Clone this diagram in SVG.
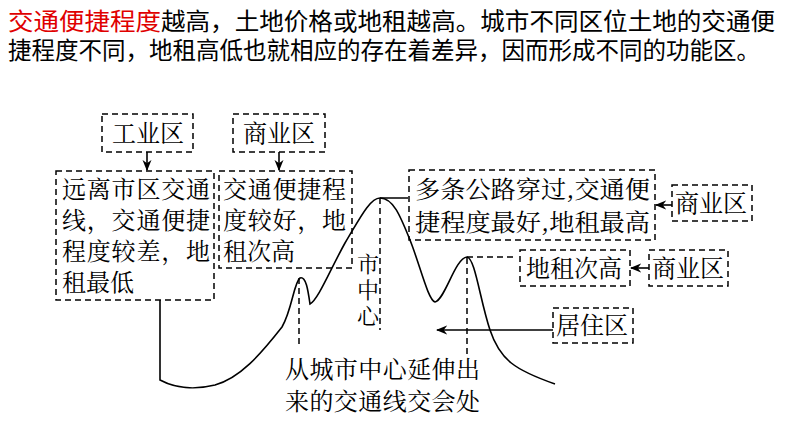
<svg xmlns="http://www.w3.org/2000/svg" width="794" height="447" viewBox="0 0 794 447">
<defs>
<style>
text{font-family:"Noto Sans CJK SC","Noto Sans",sans-serif;fill:#000}
.t{font-size:24px}
.d{font-family:"Noto Serif CJK SC","Noto Sans CJK SC",serif;font-size:24px}
.box{fill:none;stroke:#000;stroke-width:1.5;stroke-dasharray:6 4}
.ln{fill:none;stroke:#000;stroke-width:1.6}
.dl{fill:none;stroke:#000;stroke-width:1.5;stroke-dasharray:6 4}
</style>
<marker id="a" viewBox="0 0 10 10" refX="9" refY="5" markerWidth="7" markerHeight="7" orient="auto"><path d="M0,1 L10,5 L0,9 L3,5 z" fill="#000"/></marker>
</defs>
<rect width="794" height="447" fill="#fff"/>
<text class="t" x="8" y="30" textLength="153" lengthAdjust="spacingAndGlyphs" style="fill:#e00000">交通便捷程度</text>
<text class="t" x="161" y="30" textLength="614" lengthAdjust="spacingAndGlyphs">越高，土地价格或地租越高。城市不同区位土地的交通便</text>
<text class="t" x="8" y="59" textLength="752" lengthAdjust="spacingAndGlyphs">捷程度不同，地租高低也就相应的存在着差异，因而形成不同的功能区。</text>
<g id="n1"><rect class="box" x="102" y="114" width="91" height="38"/><text class="d" x="112" y="142">工业区</text></g>
<g id="n2"><rect class="box" x="233" y="114" width="92" height="38"/><text class="d" x="243" y="142">商业区</text></g>
<g id="n3"><rect class="box" x="56" y="171" width="158" height="129"/>
<text class="d" x="62" y="198" textLength="148">远离市区交通</text><text class="d" x="62" y="229" textLength="148">线，交通便捷</text><text class="d" x="62" y="260" textLength="148">程度较差，地</text><text class="d" x="62" y="291">租最低</text></g>
<g id="n4"><rect class="box" x="219" y="171" width="133" height="97"/>
<text class="d" x="223" y="198" textLength="123">交通便捷程</text><text class="d" x="223" y="229" textLength="123">度较好，地</text><text class="d" x="223" y="260">租次高</text></g>
<g id="n5"><rect class="box" x="409" y="170" width="246" height="70"/>
<text class="d" x="415" y="198" textLength="235" lengthAdjust="spacingAndGlyphs">多条公路穿过,交通便</text><text class="d" x="415" y="231" textLength="235" lengthAdjust="spacingAndGlyphs">捷程度最好,地租最高</text></g>
<g id="n6"><rect class="box" x="672" y="185" width="80" height="36"/><text class="d" x="675" y="212">商业区</text></g>
<g id="n7"><rect class="box" x="520" y="250" width="110" height="36"/><text class="d" x="526" y="277">地租次高</text></g>
<g id="n8"><rect class="box" x="649" y="250" width="79" height="36"/><text class="d" x="652" y="277">商业区</text></g>
<g id="n9"><rect class="box" x="553" y="308" width="80" height="35"/><text class="d" x="556" y="334">居住区</text></g>
<g id="n10"><text class="d" x="357" y="272" style="font-size:22px">市</text><text class="d" x="357" y="298" style="font-size:22px">中</text><text class="d" x="357" y="324" style="font-size:22px">心</text></g>
<g id="n11"><text class="d" x="285" y="378" textLength="195">从城市中心延伸出</text><text class="d" x="285" y="410" textLength="195">来的交通线交会处</text></g>
<g id="connectors">
<path class="ln" d="M160,300 L160,380 C175,388 195,390 215,385 C240,378 260,355 282,327 C292,310 294,282 300,278 C306,276 308,290 310,304 C318,300 330,270 345,243 C360,218 370,198 380,198 L408,198"/>
<path class="ln" d="M380,198 C393,198 400,215 410,240 C420,265 428,300 435,302 C445,300 455,258 467,257 C475,258 480,300 490,330 C500,360 515,370 555,384"/>
<path class="dl" d="M299,278 V345 M380,198 V330 M467,258 V355 M467,257 H515"/>
<path class="ln" d="M147,152 V170" marker-end="url(#a)"/>
<path class="ln" d="M279,152 V170" marker-end="url(#a)"/>
<path class="ln" d="M672,205 H656" marker-end="url(#a)"/>
<path class="ln" d="M649,268 H631" marker-end="url(#a)"/>
<path class="ln" d="M553,330 H437" marker-end="url(#a)"/>
</g>
</svg>
